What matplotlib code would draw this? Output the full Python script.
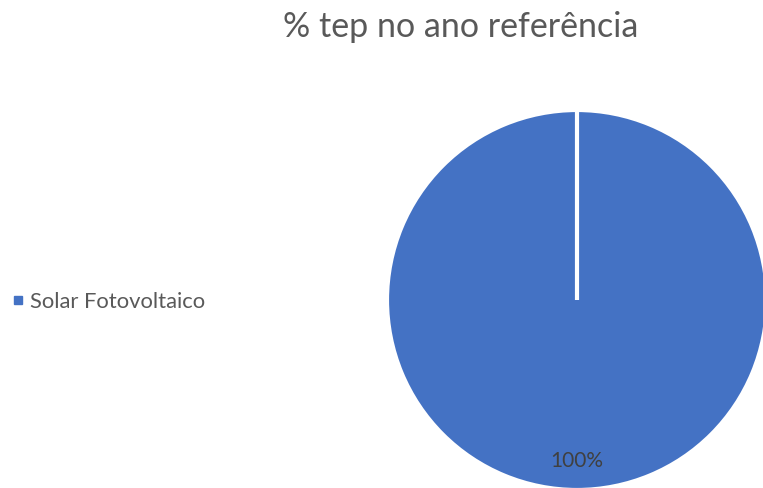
import matplotlib
matplotlib.use("Agg")
import matplotlib.pyplot as plt
from matplotlib.lines import Line2D

# dados do gráfico
fontes = ["Solar Fotovoltaico"]
percentuais = [100]
cores = ["#4472C4"]
titulo = "% tep no ano referência"

W, H = 763, 488
plt.rcParams["font.family"] = ["Lato", "DejaVu Sans"]

fig = plt.figure(figsize=(W / 100, H / 100), dpi=100)

# eixo da pizza: centro (577, 300) px, raio 190 px
cx, cy, r = 577, 300, 190
ax = fig.add_axes([(cx - r) / W, (H - cy - r) / H, 2 * r / W, 2 * r / H])
ax.pie(percentuais, colors=cores, startangle=90, counterclock=False,
       autopct="%1.0f%%", pctdistance=0.85, radius=1,
       wedgeprops=dict(edgecolor="white", linewidth=3),
       textprops=dict(color="#404040", fontsize=15))
# fatia única: o matplotlib não desenha a borda radial, então traça à mão
ax.plot([0, 0], [0, 1], color="white", linewidth=3, solid_capstyle="butt")
ax.set_xlim(-1, 1)
ax.set_ylim(-1, 1)
ax.set_aspect("equal")
ax.axis("off")

fig.text(461 / W, 1 - 27 / H, titulo, ha="center", va="center",
         fontsize=24.5, color="#595959")

handles = [Line2D([], [], marker="s", linestyle="none", markersize=6,
                  markerfacecolor=c, markeredgecolor=c) for c in cores]
fig.legend(handles, fontes, loc="center left", bbox_to_anchor=(0.0, 1 - 302 / H),
           frameon=False, fontsize=15.8, handletextpad=0.05, handlelength=1.0,
           labelcolor="#595959", borderaxespad=0.0, borderpad=0.3)

fig.savefig("out.png", dpi=100)
